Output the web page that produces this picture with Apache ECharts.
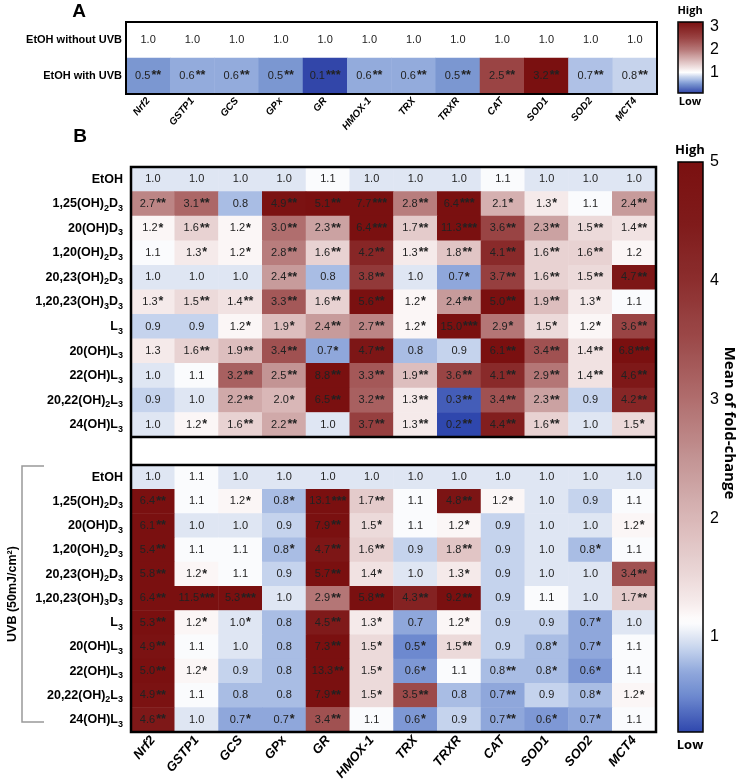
<!DOCTYPE html>
<html><head><meta charset="utf-8">
<script src="https://cdn.jsdelivr.net/npm/echarts@6/dist/echarts.min.js"></script>
<style>html,body{margin:0;padding:0;background:#fff}#c{width:738px;height:783px}</style>
</head><body><div id="c"></div>
<script>
// ---------- data ----------
const genes = ['Nrf2','GSTP1','GCS','GPx','GR','HMOX-1','TRX','TRXR','CAT','SOD1','SOD2','MCT4'];
const rowsA = ['EtOH without UVB','EtOH with UVB'];
const valuesA = [
  [1.0,1.0,1.0,1.0,1.0,1.0,1.0,1.0,1.0,1.0,1.0,1.0],
  [0.5,0.6,0.6,0.5,0.1,0.6,0.6,0.5,2.5,3.2,0.7,0.8]
];
const starsA = [
  ['','','','','','','','','','','',''],
  ['**','**','**','**','***','**','**','**','**','**','**','**']
];
const compounds = ['EtOH','1,25(OH)₂D₃','20(OH)D₃','1,20(OH)₂D₃','20,23(OH)₂D₃','1,20,23(OH)₃D₃','L₃','20(OH)L₃','22(OH)L₃','20,22(OH)₂L₃','24(OH)L₃'];
const valuesNoUVB = [
  [1.0,1.0,1.0,1.0,1.1,1.0,1.0,1.0,1.1,1.0,1.0,1.0],
  [2.7,3.1,0.8,4.9,5.1,7.7,2.8,6.4,2.1,1.3,1.1,2.4],
  [1.2,1.6,1.2,3.0,2.3,6.4,1.7,11.3,3.6,2.3,1.5,1.4],
  [1.1,1.3,1.2,2.8,1.6,4.2,1.3,1.8,4.1,1.6,1.6,1.2],
  [1.0,1.0,1.0,2.4,0.8,3.8,1.0,0.7,3.7,1.6,1.5,4.7],
  [1.3,1.5,1.4,3.3,1.6,5.6,1.2,2.4,5.0,1.9,1.3,1.1],
  [0.9,0.9,1.2,1.9,2.4,2.7,1.2,15.0,2.9,1.5,1.2,3.6],
  [1.3,1.6,1.9,3.4,0.7,4.7,0.8,0.9,6.1,3.4,1.4,6.8],
  [1.0,1.1,3.2,2.5,8.8,3.3,1.9,3.6,4.1,2.9,1.4,4.6],
  [0.9,1.0,2.2,2.0,6.5,3.2,1.3,0.3,3.4,2.3,0.9,4.2],
  [1.0,1.2,1.6,2.2,1.0,3.7,1.3,0.2,4.4,1.6,1.0,1.5]
];
const starsNoUVB = [
  ['','','','','','','','','','','',''],
  ['**','**','','**','**','***','**','***','*','*','','**'],
  ['*','**','*','**','**','***','**','***','**','**','**','**'],
  ['','*','*','**','**','**','**','**','**','**','**',''],
  ['','','','**','','**','','*','**','**','**','**'],
  ['*','**','**','**','**','**','*','**','**','**','*',''],
  ['','','*','*','**','**','*','***','*','*','*','**'],
  ['','**','**','**','*','**','','','**','**','**','***'],
  ['','','**','**','**','**','**','**','**','**','**','**'],
  ['','','**','*','**','**','**','**','**','**','','**'],
  ['','*','**','**','','**','**','**','**','**','','*']
];
const valuesUVB = [
  [1.0,1.1,1.0,1.0,1.0,1.0,1.0,1.0,1.0,1.0,1.0,1.0],
  [6.4,1.1,1.2,0.8,13.1,1.7,1.1,4.8,1.2,1.0,0.9,1.1],
  [6.1,1.0,1.0,0.9,7.9,1.5,1.1,1.2,0.9,1.0,1.0,1.2],
  [5.4,1.1,1.1,0.8,4.7,1.6,0.9,1.8,0.9,1.0,0.8,1.1],
  [5.8,1.2,1.1,0.9,5.7,1.4,1.0,1.3,0.9,1.0,1.0,3.4],
  [6.4,11.5,5.3,1.0,2.9,5.8,4.3,9.2,0.9,1.1,1.0,1.7],
  [5.3,1.2,1.0,0.8,4.5,1.3,0.7,1.2,0.9,0.9,0.7,1.0],
  [4.9,1.1,1.0,0.8,7.3,1.5,0.5,1.5,0.9,0.8,0.7,1.1],
  [5.0,1.2,0.9,0.8,13.3,1.5,0.6,1.1,0.8,0.8,0.6,1.1],
  [4.9,1.1,0.8,0.8,7.9,1.5,3.5,0.8,0.7,0.9,0.8,1.2],
  [4.6,1.0,0.7,0.7,3.4,1.1,0.6,0.9,0.7,0.6,0.7,1.1]
];
const starsUVB = [
  ['','','','','','','','','','','',''],
  ['**','','*','*','***','**','','**','*','','',''],
  ['**','','','','**','*','','*','','','','*'],
  ['**','','','*','**','**','','**','','','*',''],
  ['**','*','','','**','*','','*','','','','**'],
  ['**','***','***','','**','**','**','**','','','','**'],
  ['**','*','*','','**','*','','*','','','*',''],
  ['**','','','','**','*','*','**','','*','*',''],
  ['**','*','','','**','*','*','','**','*','*',''],
  ['**','','','','**','*','**','','**','','*','*'],
  ['**','','*','*','**','','*','','**','*','*','']
];
const scaleA = [0.1, 3.2];
const scaleB = [0.2, 5];
const ticksA = [1,2,3];
const ticksB = [1,2,3,4,5];

// ---------- colour scales ----------
const stopsA = [[0.1,'#3246a9'],[0.5,'#7b97d1'],[0.6,'#93abdc'],[0.7,'#afc1e6'],[0.8,'#c6d3ec'],[1.0,'#ffffff'],[1.5,'#dcbcbc'],[2.0,'#b67777'],[2.5,'#9a4444'],[3.2,'#7a1010']];
const stopsB = [[0.2,'#2f47ad'],[0.5,'#6d89cf'],[0.7,'#8fa7db'],[0.8,'#a9bde4'],[0.9,'#c5d3ed'],[1.0,'#dfe6f3'],[1.12,'#ffffff'],[1.3,'#f5eaea'],[1.6,'#e8d2d2'],[2.0,'#d9b7b7'],[2.4,'#c79b9b'],[3.0,'#b06e6e'],[3.5,'#9c4a4a'],[4.0,'#8c2e2e'],[4.5,'#7f1a1a'],[5.0,'#7a1010']];
function hex(h){return [parseInt(h.slice(1,3),16),parseInt(h.slice(3,5),16),parseInt(h.slice(5,7),16)];}
function buildColors(stops,min,max,n){
  const out=[];
  for(let i=0;i<n;i++){
    const v=min+(max-min)*i/(n-1);
    let k=0; while(k<stops.length-2 && v>stops[k+1][0]) k++;
    const a=stops[k], b=stops[k+1];
    let t=(v-a[0])/(b[0]-a[0]); t=Math.max(0,Math.min(1,t));
    const ca=hex(a[1]), cb=hex(b[1]);
    out.push('rgb('+ca.map((c,j)=>Math.round(c+(cb[j]-c)*t)).join(',')+')');
  }
  return out;
}

function cells(values,stars){
  const d=[];
  values.forEach((row,r)=>row.forEach((v,c)=>d.push({value:[c,r,v],stars:stars[r][c]})));
  return d;
}
function subRich(name){
  let out='',buf='';
  for(const ch of name){
    if(ch==='₂'||ch==='₃'){ if(buf){out+='{b|'+buf+'}';buf='';} out+='{s|'+(ch==='₂'?'2':'3')+'}'; }
    else buf+=ch;
  }
  if(buf) out+='{b|'+buf+'}';
  return out;
}

const FONT='Liberation Sans';
const cellLabel = {
  show:true,
  formatter:p=>'{v|'+p.value[2].toFixed(1)+'}'+(p.data.stars?'{s|'+p.data.stars+'}':''),
  rich:{
    v:{fontSize:11,color:'#222',fontFamily:FONT},
    s:{fontSize:12.5,fontWeight:'bold',color:'#222',fontFamily:FONT,padding:[0,0,0,1]}
  }
};
const compoundLabel = {
  interval:0, margin:8,
  formatter:v=>subRich(v),
  rich:{
    b:{fontSize:12.5,fontWeight:'bold',color:'#000',fontFamily:FONT,lineHeight:18},
    s:{fontSize:9,fontWeight:'bold',color:'#000',fontFamily:FONT,lineHeight:10,verticalAlign:'bottom'}
  }
};
const noAxis = {axisLine:{show:false},axisTick:{show:false},splitLine:{show:false}};

function cbAxes(grid,range,ticks){
  return [
    {type:'value',gridIndex:grid,min:range[0],max:range[1],position:'left',
      axisLine:{show:false},splitLine:{show:false},axisLabel:{show:false},
      axisTick:{show:true,inside:true,length:4,lineStyle:{color:'#000',width:1.2},customValues:ticks}},
    {type:'value',gridIndex:grid,min:range[0],max:range[1],position:'right',
      axisLine:{show:false},splitLine:{show:false},
      axisTick:{show:true,inside:true,length:4,lineStyle:{color:'#000',width:1.2},customValues:ticks},
      axisLabel:{show:true,customValues:ticks,fontSize:16,color:'#000',fontFamily:FONT,margin:7}}
  ];
}

const option = {
  animation:false,
  backgroundColor:'#fff',
  grid:[
    {left:126,top:22,width:531,height:72},
    {left:131,top:167,width:525,height:270},
    {left:131,top:465,width:525,height:267},
    {left:678,top:22,width:25,height:71},
    {left:678,top:162,width:25,height:570}
  ],
  xAxis:[
    Object.assign({type:'category',gridIndex:0,data:genes,axisLabel:{interval:0,rotate:50,margin:5,fontSize:10,fontWeight:'bold',fontStyle:'italic',color:'#000',fontFamily:FONT}},noAxis),
    Object.assign({type:'category',gridIndex:1,data:genes,axisLabel:{show:false}},noAxis),
    Object.assign({type:'category',gridIndex:2,data:genes,axisLabel:{interval:0,rotate:50,margin:6,fontSize:13,fontWeight:'bold',fontStyle:'italic',color:'#000',fontFamily:FONT}},noAxis),
    {type:'value',gridIndex:3,show:false},
    {type:'value',gridIndex:4,show:false}
  ],
  yAxis:[
    Object.assign({type:'category',gridIndex:0,data:rowsA,inverse:true,axisLabel:{interval:0,margin:4,fontSize:11,fontWeight:'bold',color:'#000',fontFamily:FONT}},noAxis),
    Object.assign({type:'category',gridIndex:1,data:compounds,inverse:true,axisLabel:compoundLabel},noAxis),
    Object.assign({type:'category',gridIndex:2,data:compounds,inverse:true,axisLabel:compoundLabel},noAxis),
    ...cbAxes(3,scaleA,ticksA),
    ...cbAxes(4,scaleB,ticksB)
  ],
  visualMap:[
    {type:'continuous',seriesIndex:0,min:scaleA[0],max:scaleA[1],calculable:false,hoverLink:false,orient:'vertical',
     left:678,top:22,itemWidth:25,itemHeight:71,padding:0,inRange:{color:buildColors(stopsA,scaleA[0],scaleA[1],63)},outOfRange:{color:'#7a1010'}},
    {type:'continuous',seriesIndex:[1,2],min:scaleB[0],max:scaleB[1],calculable:false,hoverLink:false,orient:'vertical',
     left:678,top:162,itemWidth:25,itemHeight:570,padding:0,inRange:{color:buildColors(stopsB,scaleB[0],scaleB[1],97)},outOfRange:{color:'#7a1010'}}
  ],
  series:[
    {type:'heatmap',xAxisIndex:0,yAxisIndex:0,data:cells(valuesA,starsA),label:cellLabel,emphasis:{disabled:true}},
    {type:'heatmap',xAxisIndex:1,yAxisIndex:1,data:cells(valuesNoUVB,starsNoUVB),label:cellLabel,emphasis:{disabled:true}},
    {type:'heatmap',xAxisIndex:2,yAxisIndex:2,data:cells(valuesUVB,starsUVB),label:cellLabel,emphasis:{disabled:true}}
  ],
  graphic:[
    {type:'text',x:79,y:12,z:100,style:{text:'A',font:'bold 19px '+FONT,fill:'#000',align:'center',verticalAlign:'middle',textAlign:'center',textVerticalAlign:'middle'}},
    {type:'text',x:80,y:137,z:100,style:{text:'B',font:'bold 19px '+FONT,fill:'#000',align:'center',verticalAlign:'middle',textAlign:'center',textVerticalAlign:'middle'}},
    {type:'rect',z:100,shape:{x:126,y:22,width:531,height:72},style:{fill:'none',stroke:'#000',lineWidth:2}},
    {type:'rect',z:100,shape:{x:131,y:167,width:525,height:565},style:{fill:'none',stroke:'#000',lineWidth:2.5}},
    {type:'line',z:100,shape:{x1:131,y1:437,x2:656,y2:437},style:{stroke:'#000',lineWidth:2.5}},
    {type:'line',z:100,shape:{x1:131,y1:465,x2:656,y2:465},style:{stroke:'#000',lineWidth:2.5}},
    {type:'rect',z:100,shape:{x:678,y:22,width:25,height:71},style:{fill:'none',stroke:'#000',lineWidth:1.5}},
    {type:'rect',z:100,shape:{x:678,y:162,width:25,height:570},style:{fill:'none',stroke:'#000',lineWidth:1.5}},
    {type:'text',x:690,y:11,z:100,style:{text:'High',font:'bold 11px "Open Sans"',fill:'#000',align:'center',verticalAlign:'middle',textAlign:'center',textVerticalAlign:'middle'}},
    {type:'text',x:690,y:102,z:100,style:{text:'Low',font:'bold 11px "Open Sans"',fill:'#000',align:'center',verticalAlign:'middle',textAlign:'center',textVerticalAlign:'middle'}},
    {type:'text',x:690,y:150,z:100,style:{text:'High',font:'bold 13px "Open Sans"',fill:'#000',align:'center',verticalAlign:'middle',textAlign:'center',textVerticalAlign:'middle'}},
    {type:'text',x:690,y:745,z:100,style:{text:'Low',font:'bold 13px "Open Sans"',fill:'#000',align:'center',verticalAlign:'middle',textAlign:'center',textVerticalAlign:'middle'}},
    {type:'text',x:729,y:423,rotation:-Math.PI/2,z:100,style:{text:'Mean of fold-change',font:'bold 15px "Open Sans"',fill:'#000',align:'center',verticalAlign:'middle',textAlign:'center',textVerticalAlign:'middle'}},
    {type:'text',x:13,y:594,rotation:Math.PI/2,z:100,style:{text:'UVB (50mJ/cm²)',font:'bold 12.5px '+FONT,fill:'#000',align:'center',verticalAlign:'middle',textAlign:'center',textVerticalAlign:'middle'}},
    {type:'polyline',z:100,shape:{points:[[44,466],[22,466],[22,722],[44,722]]},style:{fill:'none',stroke:'#999',lineWidth:1.5}}
  ]
};
const chart = echarts.init(document.getElementById('c'));
chart.setOption(option);
</script></body></html>
